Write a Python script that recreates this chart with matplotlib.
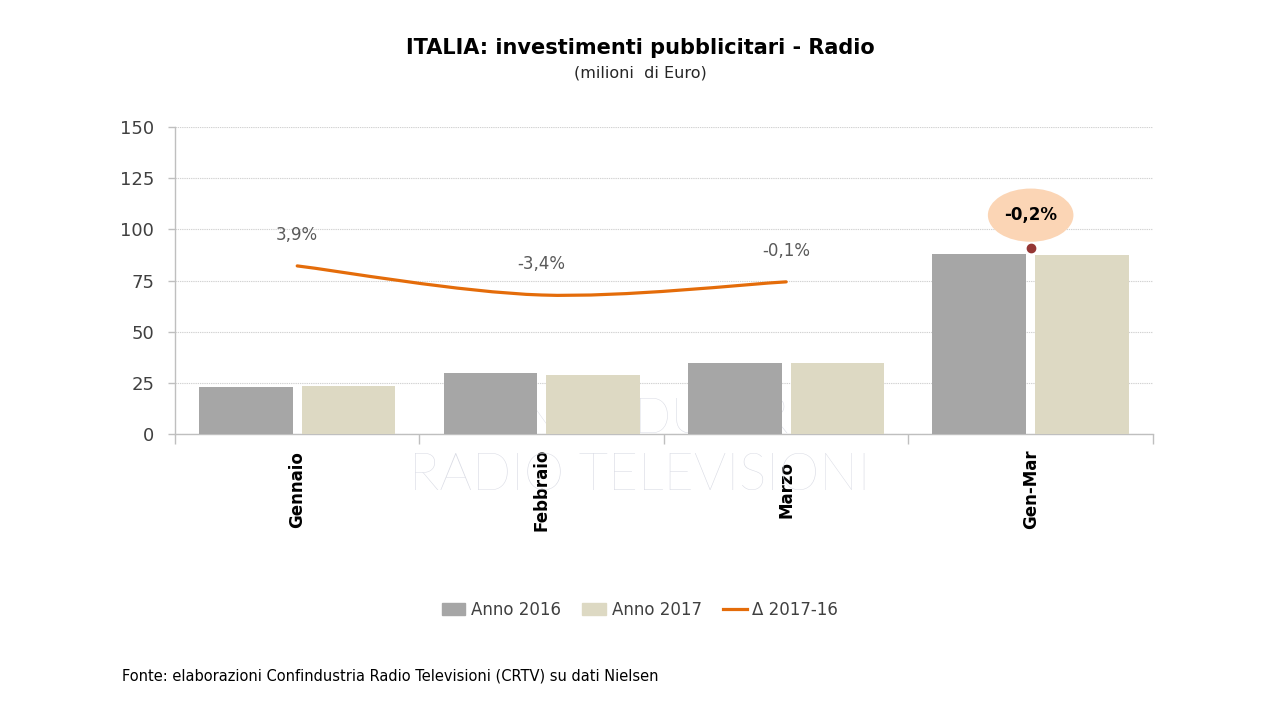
import numpy as np
import matplotlib
matplotlib.use("Agg")
import matplotlib.pyplot as plt
from matplotlib.path import Path
from matplotlib.patches import PathPatch, Ellipse, Patch
from matplotlib.lines import Line2D
import matplotlib.transforms as mtransforms

plt.rcParams["font.family"] = ["DejaVu Sans"]

# data (milioni di Euro)
categories = ["Gennaio", "Febbraio", "Marzo", "Gen-Mar"]
anno_2016 = [23.0, 29.8, 35.0, 88.0]
anno_2017 = [23.3, 28.8, 34.8, 87.3]
delta_pct = [3.9, -3.4, -0.1]
delta_labels = ["3,9%", "-3,4%", "-0,1%"]
total_label = "-0,2%"

c2016 = "#a6a6a6"
c2017 = "#ddd9c3"
cline = "#e46c0a"
txt = "#404040"
wm = "#d9dbe4"


def smooth_path(xs, ys):
    # Catmull-Rom spline drawn as cubic Bezier segments through the data points
    p = np.column_stack([xs, ys]).astype(float)
    ext = np.vstack([p[0], p, p[-1]])
    verts = [p[0]]
    codes = [Path.MOVETO]
    for i in range(len(p) - 1):
        a, b, c, d = ext[i], ext[i + 1], ext[i + 2], ext[i + 3]
        verts += [b + (c - a) / 6, c - (d - b) / 6, c]
        codes += [Path.CURVE4] * 3
    return Path(verts, codes)


fig = plt.figure(figsize=(12.8, 7.2), dpi=100)
ax = fig.add_axes([0.1367, 0.397, 0.764, 0.4264])

x = np.arange(len(categories))
w = 0.383
ax.bar(x - 0.21, anno_2016, w, color=c2016, zorder=3)
ax.bar(x + 0.21, anno_2017, w, color=c2017, zorder=3)

ax.set_xlim(-0.5, 3.5)
ax.set_ylim(0, 150)
ax.set_yticks(np.arange(0, 151, 25))
ax.yaxis.grid(True, color="#d2d2d2", linewidth=0.8, linestyle=(0, (1.2, 0.8)), zorder=1)
ax.set_axisbelow(True)
for s in ["top", "right"]:
    ax.spines[s].set_visible(False)
for s in ["left", "bottom"]:
    ax.spines[s].set_color("#bfbfbf")
    ax.spines[s].set_linewidth(1.0)
ax.tick_params(axis="y", length=5, width=1, color="#bfbfbf", pad=10,
               labelsize=13, labelcolor=txt)
ax.set_xticks(x)
ax.set_xticklabels([])
ax.tick_params(axis="x", which="major", length=0)
ax.set_xticks(np.arange(-0.5, 3.6, 1), minor=True)
ax.tick_params(axis="x", which="minor", length=7, width=1, color="#bfbfbf")

# category labels, rotated
trans = mtransforms.blended_transform_factory(ax.transData, ax.transAxes)
for xi, name in zip(x, categories):
    ax.text(xi, -0.18, name, transform=trans, rotation=90, ha="center",
            va="center", fontsize=12, fontweight="bold", color="black", zorder=6)

# watermark
fig.text(0.4995, 0.339, "RADIO TELEVISIONI", ha="center", va="center",
         fontsize=37, color=wm, family="Lato", fontweight="light", zorder=0)
ax.text(1.41, 7, "CONFINDUSTRIA", ha="center", va="center", fontsize=35,
        color=wm, family="Lato", fontweight="light", zorder=0.5)

# delta line on hidden secondary axis
ax2 = ax.twinx()
ax2.set_ylim(-38.3, 38.7)
ax2.axis("off")
ax2.add_patch(PathPatch(smooth_path(x[:3], delta_pct), fill=False,
                        edgecolor=cline, linewidth=2.3, capstyle="round", zorder=4))
for xi, v, lab in zip(x[:3], delta_pct, delta_labels):
    ax2.annotate(lab, (xi, v), xytext=(0, 16), textcoords="offset points",
                 ha="center", va="bottom", fontsize=12, color="#595959")

# total delta callout for Gen-Mar
dot_y = max(anno_2016[3], anno_2017[3]) + 3
ax.plot([x[3]], [dot_y], "o", color="#953735", markersize=6, zorder=5, clip_on=False)
ax.add_patch(Ellipse((x[3], dot_y + 16), 0.35, 26, facecolor="#fbd5b5",
                     edgecolor="none", zorder=5, clip_on=False))
ax.text(x[3], dot_y + 16, total_label, ha="center", va="center", fontsize=12,
        fontweight="bold", color="black", zorder=6)

# titles
fig.text(0.5, 0.934, "ITALIA: investimenti pubblicitari - Radio", ha="center",
         va="center", fontsize=15, fontweight="bold", color="black")
fig.text(0.5, 0.898, "(milioni  di Euro)", ha="center", va="center",
         fontsize=11.5, color="#262626")

handles = [Patch(color=c2016, label="Anno 2016"),
           Patch(color=c2017, label="Anno 2017"),
           Line2D([], [], color=cline, linewidth=2.3, label="Δ 2017-16")]
fig.legend(handles=handles, loc="center", bbox_to_anchor=(0.5, 0.153), ncol=3,
           frameon=False, fontsize=12, labelcolor=txt, handlelength=1.4,
           handleheight=0.8, columnspacing=1.3, handletextpad=0.35)

fig.text(0.095, 0.061, "Fonte: elaborazioni Confindustria Radio Televisioni (CRTV) su dati Nielsen",
         ha="left", va="center", fontsize=10.5, color="black")

fig.savefig("out.png", dpi=100)
